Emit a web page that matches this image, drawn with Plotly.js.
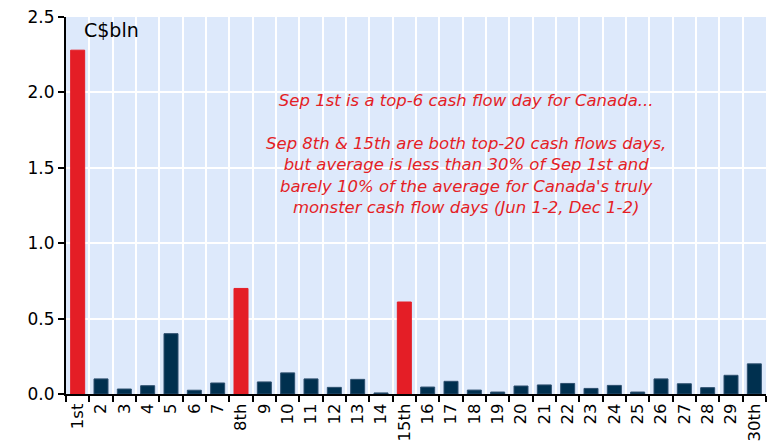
<!DOCTYPE html>
<html>
<head>
<meta charset="utf-8">
<script src="https://cdn.plot.ly/plotly-3.0.1.min.js"></script>
<style>html,body{margin:0;padding:0;background:#fff;}#chart{width:772px;height:442px;}</style>
</head>
<body>
<div id="chart"></div>
<script>
const days = ["1st","2","3","4","5","6","7","8th","9","10","11","12","13","14","15th","16","17","18","19","20","21","22","23","24","25","26","27","28","29","30th"];
const flows = [2.28,0.10,0.033,0.055,0.40,0.025,0.073,0.70,0.08,0.14,0.10,0.044,0.097,0.007,0.61,0.046,0.084,0.026,0.013,0.053,0.06,0.07,0.037,0.057,0.013,0.10,0.068,0.042,0.124,0.20];
const highlighted = ["1st","8th","15th"];
const unitLabel = "C$bln";
const noteText = "Sep 1st is a top-6 cash flow day for Canada...<br><br>Sep 8th &amp; 15th are both top-20 cash flows days,<br>but average is less than 30% of Sep 1st and<br>barely 10% of the average for Canada's truly<br>monster cash flow days (Jun 1-2, Dec 1-2)";

const RED = "#e41e26", NAVY = "#00304f";
const colors = days.map(d => highlighted.includes(d) ? RED : NAVY);
const lineColors = days.map(d => highlighted.includes(d) ? RED : "#2d4f6e");
const FONT = "DejaVu Sans, Liberation Sans, Arial, sans-serif";

const trace = {
  type: "bar", x: days, y: flows,
  marker: {color: colors, line: {color: lineColors, width: 1}},
  hoverinfo: "x+y"
};

const layout = {
  width: 772, height: 442,
  margin: {l: 66, r: 6, t: 17, b: 48},
  paper_bgcolor: "#ffffff",
  plot_bgcolor: "#dde9fb",
  bargap: 0.4,
  showlegend: false,
  font: {family: FONT, color: "#000"},
  xaxis: {
    type: "category", tickson: "boundaries",
    showgrid: true, gridcolor: "#ffffff", gridwidth: 2,
    showline: true, linecolor: "#000", linewidth: 2,
    ticks: "outside", ticklen: 6, tickwidth: 2, tickcolor: "#000",
    tickangle: -90, tickfont: {size: 16.5, color: "#000", family: FONT},
    ticklabelstandoff: 1,
    range: [-0.5, 29.5], fixedrange: true
  },
  yaxis: {
    range: [0, 2.5], dtick: 0.5, tickformat: ".1f",
    showgrid: true, gridcolor: "#ffffff", gridwidth: 2,
    showline: true, linecolor: "#000", linewidth: 2,
    ticks: "outside", ticklen: 6, tickwidth: 2, tickcolor: "#000",
    tickfont: {size: 17, color: "#000", family: FONT}, zeroline: false
  },
  annotations: [
    {text: unitLabel, xref: "paper", yref: "paper", x: 0.023, y: 1.0, xanchor: "left", yanchor: "top",
     showarrow: false, font: {size: 19, color: "#000", family: FONT}},
    {text: noteText, xref: "paper", yref: "y", x: 0.571, y: 1.59, xanchor: "center", yanchor: "middle",
     showarrow: false, align: "center",
     font: {size: 16.5, color: "#e41e26", style: "italic", family: FONT}}
  ]
};

Plotly.newPlot("chart", [trace], layout, {displayModeBar: false, staticPlot: true});
</script>
</body>
</html>
